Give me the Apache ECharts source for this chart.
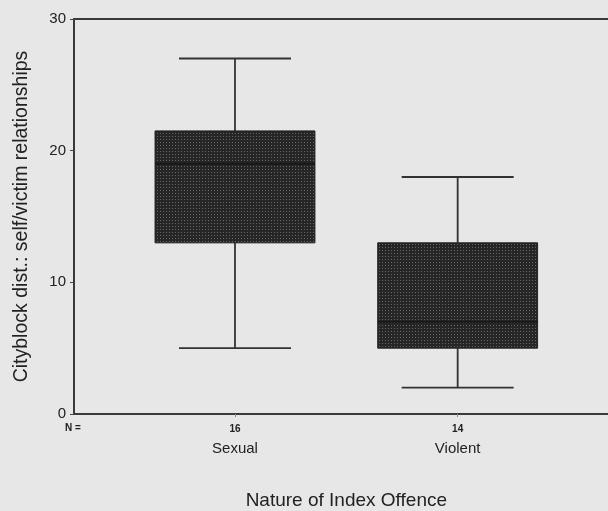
<!DOCTYPE html>
<html><head><meta charset="utf-8">
<script src="https://cdn.jsdelivr.net/npm/echarts@6/dist/echarts.min.js"></script>
<style>html,body{margin:0;padding:0;background:#e7e7e7;}#c{width:608px;height:511px;}</style>
</head><body><div id="c"></div>
<script>
var categories = ['Sexual', 'Violent'];
var nCounts = [16, 14];
var whiskerLow = [5, 2];
var q1 = [13, 5];
var median = [19, 7];
var q3 = [21.5, 13];
var whiskerHigh = [27, 18];
var yTicks = [0, 10, 20, 30];

var pc = document.createElement('canvas');
pc.width = 3; pc.height = 3;
var g = pc.getContext('2d');
g.fillStyle = '#262626'; g.fillRect(0, 0, 3, 3);
g.fillStyle = '#666'; g.fillRect(1, 1, 1, 1);

var data = categories.map(function (c, i) {
  return [i, whiskerLow[i], q1[i], median[i], q3[i], whiskerHigh[i]];
});

var chart = echarts.init(document.getElementById('c'));
var font = 'Liberation Sans, Arial, sans-serif';
var axisLs = { color: '#3a3a3a', width: 2 };
chart.setOption({
  backgroundColor: '#e7e7e7',
  animation: false,
  grid: [
    { left: 74, right: 0, top: 19, bottom: 97, outerBoundsMode: 'none', containLabel: false },
    { left: 123.65, right: 39, top: 19, bottom: 97, outerBoundsMode: 'none', containLabel: false }
  ],
  xAxis: [
    { gridIndex: 0, type: 'category', data: [''], axisLine: { lineStyle: axisLs }, axisTick: { show: false }, axisLabel: { show: false } },
    {
      gridIndex: 1, type: 'category', data: categories,
      axisLine: { show: false },
      axisTick: { show: true, alignWithLabel: true, length: 3, lineStyle: { color: '#888' } },
      axisLabel: {
        margin: 7,
        formatter: function (v, i) { return '{n|' + nCounts[i] + '}\n{c|' + v + '}'; },
        rich: {
          n: { fontFamily: font, fontSize: 10, fontWeight: 'bold', color: '#222', lineHeight: 16 },
          c: { fontFamily: font, fontSize: 15, color: '#222', lineHeight: 24 }
        }
      },
      name: 'Nature of Index Offence', nameLocation: 'middle', nameGap: 77,
      nameTextStyle: { fontFamily: font, fontSize: 19, color: '#222' }
    },
    { gridIndex: 0, type: 'category', position: 'top', data: [''], axisLine: { lineStyle: axisLs }, axisTick: { show: false }, axisLabel: { show: false } }
  ],
  yAxis: [
    {
      gridIndex: 0, type: 'value', min: 0, max: 30, interval: 10,
      axisLine: { show: true, lineStyle: axisLs },
      axisTick: { show: true, length: 4, lineStyle: { color: '#444' } },
      splitLine: { show: false },
      axisLabel: { fontFamily: font, fontSize: 15, color: '#222', margin: 8 },
      name: 'Cityblock dist.: self/victim relationships', nameLocation: 'middle', nameGap: 42,
      nameTextStyle: { fontFamily: font, fontSize: 19.5, color: '#222' }
    },
    { gridIndex: 1, type: 'value', min: 0, max: 30, interval: 10, show: false }
  ],
  graphic: [
    { type: 'text', left: 65, top: 423, style: { text: 'N =', font: 'bold 10px ' + font, fill: '#222' } }
  ],
  series: [{
    type: 'custom',
    xAxisIndex: 1, yAxisIndex: 1,
    data: data,
    renderItem: function (params, api) {
      var x = api.value(0);
      var lo = api.coord([x, api.value(1)]);
      var b1 = api.coord([x, api.value(2)]);
      var md = api.coord([x, api.value(3)]);
      var b3 = api.coord([x, api.value(4)]);
      var hi = api.coord([x, api.value(5)]);
      var band = api.size([1, 0])[0];
      var bw = band * 0.718, cw = band * 0.503;
      var cx = lo[0];
      var ls = { stroke: '#333', lineWidth: 1.8 };
      return {
        type: 'group',
        children: [
          { type: 'line', shape: { x1: cx, y1: hi[1], x2: cx, y2: b3[1] }, style: ls },
          { type: 'line', shape: { x1: cx, y1: b1[1], x2: cx, y2: lo[1] }, style: ls },
          { type: 'line', shape: { x1: cx - cw / 2, y1: hi[1], x2: cx + cw / 2, y2: hi[1] }, style: ls },
          { type: 'line', shape: { x1: cx - cw / 2, y1: lo[1], x2: cx + cw / 2, y2: lo[1] }, style: ls },
          { type: 'rect', shape: { x: cx - bw / 2, y: b3[1], width: bw, height: b1[1] - b3[1] },
            style: { fill: { image: pc, repeat: 'repeat' }, stroke: '#222', lineWidth: 1 } },
          { type: 'line', shape: { x1: cx - bw / 2, y1: md[1], x2: cx + bw / 2, y2: md[1] }, style: { stroke: '#181818', lineWidth: 2 } }
        ]
      };
    }
  }]
});
</script>
</body></html>
